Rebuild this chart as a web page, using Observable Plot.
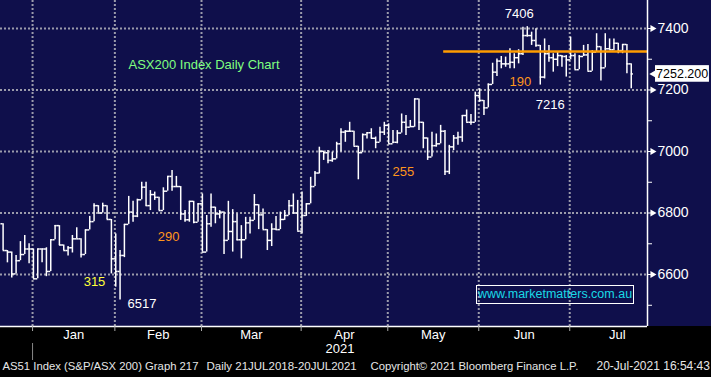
<!DOCTYPE html>
<html><head><meta charset="utf-8">
<script src="https://cdn.jsdelivr.net/npm/d3@7"></script>
<script src="https://cdn.jsdelivr.net/npm/@observablehq/plot@0.6"></script>
<style>
html,body{margin:0;padding:0;background:#000;}
#wrap{position:relative;width:711px;height:377px;overflow:hidden;font-family:"Liberation Sans",Arial,sans-serif;}
#wm{position:absolute;left:476px;top:285px;width:156px;height:17px;border:1px solid #fff;color:#19d9e6;font-size:12.5px;line-height:17px;text-align:center;white-space:nowrap;}
</style></head><body><div id="wrap"><div id="wm">www.marketmatters.com.au</div></div>
<script>
// ASX200 daily OHLC, 21 Dec 2020 – 20 Jul 2021
const opens = [6765,6678,6673,6602,6645,6665,6683,6683,6586,6683,6683,6610,6713,6759,6696,6678,6687,6716,6716,6665,6745,6772,6824,6800,6824,6779,6651,6610,6662,6763,6803,6790,6843,6884,6824,6860,6851,6808,6871,6919,6886,6886,6797,6778,6838,6770,6830,6673,6765,6819,6797,6803,6711,6740,6772,6713,6713,6768,6776,6827,6794,6746,6711,6748,6746,6779,6792,6824,6800,6741,6792,6830,6886,6930,7001,6996,6971,6976,7025,7063,7066,7066,7017,6996,7055,7061,7043,7030,7063,7085,7025,7030,7060,7095,7079,7081,7171,7095,7044,6982,7019,7025,7066,6935,7015,7044,7047,7117,7095,7095,7182,7166,7142,7218,7258,7294,7285,7285,7290,7305,7318,7377,7377,7361,7345,7242,7318,7305,7300,7312,7309,7298,7312,7266,7309,7314,7261,7323,7341,7272,7334,7331,7352,7328,7348,7285];
const highs = [6765,6678,6673,6662,6707,6727,6700,6683,6683,6683,6687,6713,6759,6759,6696,6691,6727,6752,6716,6745,6789,6830,6824,6832,6824,6779,6732,6678,6763,6854,6838,6845,6900,6900,6873,6868,6851,6882,6919,6938,6919,6886,6808,6838,6838,6830,6862,6792,6862,6819,6808,6803,6838,6811,6797,6759,6786,6786,6860,6827,6813,6746,6765,6789,6803,6808,6841,6862,6841,6868,6830,6916,6935,7014,7001,7003,6998,7030,7074,7068,7095,7066,7017,7057,7061,7074,7047,7079,7095,7090,7068,7068,7122,7117,7101,7171,7171,7095,7044,7063,7057,7085,7068,7020,7052,7063,7117,7135,7120,7193,7204,7166,7220,7287,7301,7309,7307,7334,7318,7331,7404,7406,7388,7399,7345,7366,7345,7318,7323,7312,7312,7372,7318,7312,7345,7348,7328,7383,7341,7383,7366,7366,7352,7348,7348,7285];
const lows = [6678,6638,6589,6602,6645,6665,6635,6586,6586,6638,6593,6610,6713,6694,6678,6660,6670,6716,6654,6665,6745,6772,6800,6800,6779,6602,6559,6517,6655,6763,6770,6785,6843,6822,6808,6841,6808,6808,6871,6871,6886,6776,6770,6770,6765,6770,6673,6673,6754,6765,6781,6665,6711,6673,6710,6651,6713,6732,6776,6746,6746,6678,6691,6743,6746,6776,6792,6797,6741,6732,6789,6830,6886,6927,6971,6960,6965,6976,6998,7030,7063,7017,6908,6996,7041,7041,7009,7030,7052,7025,7025,7025,7060,7052,7079,7079,7068,7009,6971,6982,7014,7025,6922,6925,7003,7020,7030,7095,7085,7095,7160,7117,7142,7218,7244,7269,7274,7269,7269,7285,7312,7372,7345,7339,7216,7236,7290,7258,7276,7274,7242,7298,7266,7266,7309,7261,7261,7323,7229,7272,7331,7328,7318,7318,7253,7204];
const closes = [6678,6673,6602,6645,6665,6683,6683,6586,6683,6683,6610,6713,6759,6696,6678,6687,6716,6716,6665,6745,6772,6824,6800,6824,6779,6651,6610,6662,6763,6803,6790,6843,6884,6824,6860,6851,6808,6871,6919,6886,6886,6797,6778,6838,6770,6830,6673,6765,6819,6797,6803,6711,6740,6772,6713,6713,6768,6776,6827,6794,6746,6711,6748,6746,6779,6792,6824,6800,6741,6792,6830,6886,6930,7001,6996,6971,6976,7025,7063,7066,7066,7017,6996,7055,7061,7043,7030,7063,7085,7025,7030,7060,7095,7079,7081,7171,7095,7044,6982,7019,7025,7066,6935,7015,7044,7047,7117,7095,7095,7182,7166,7142,7218,7258,7294,7285,7285,7290,7305,7318,7377,7377,7361,7345,7242,7318,7305,7300,7312,7309,7298,7312,7266,7309,7314,7261,7323,7341,7272,7334,7331,7352,7328,7348,7285,7252.2];

const monthLabels = ["Jan","Feb","Mar","Apr","May","Jun","Jul"];
const monthStarts = [7, 26, 46, 69, 89, 110, 131, 153]; // bar index of first trading day
const yTicks = [6600, 6800, 7000, 7200, 7400];
const yMinor = [6500, 6700, 6900, 7100, 7300];
const resistance = 7325;       // orange line level
const resistanceFrom = 101.7;  // bar index where it starts
const pivotHigh = 121, pivotLowJun = 124, pivotLowJan = 27; // bar indices of labelled pivots
const rangeText = ["315", "290", "255", "190"];
const rangeBar = [21.1, 38.2, 92.4, 119.4];
const rangePrice = [6577, 6724, 6935, 7228];

const bars = closes.map((c, i) => ({i, o: opens[i], h: highs[i], l: lows[i], c}));
const X0 = -0.6, X1 = 148.75, Y0 = 6431, Y1 = 7491;
const k = (Y1 - Y0) / 326;
const grid = "#9b9bab";
const gridStarts = monthStarts.slice(0, monthLabels.length).map(d => d - 0.2);
const mids = monthLabels.map((m, j) => (monthStarts[j] + monthStarts[j + 1]) / 2 - 0.2);
const labelOf = new Map(mids.map((m, j) => [m, monthLabels[j]]));
const last = closes[closes.length - 1];
const ranges = rangeText.map((t, j) => ({t, i: rangeBar[j], p: rangePrice[j]}));
const white = "#ffffff";
const foot = "#e6e6e6";

const chart = Plot.plot({
  width: 711, height: 377,
  marginLeft: 0, marginRight: 64, marginTop: 0, marginBottom: 51,
  x: {domain: [X0, X1], axis: null, label: null},
  y: {domain: [Y0, Y1], axis: null, label: null},
  style: {
    fontFamily: "'Liberation Sans', Arial, sans-serif",
    fontSize: "13px",
    color: white,
    background: "linear-gradient(to bottom, #0f0f4b 0px, #0f0f4b 326px, #000000 326px)",
    overflow: "visible"
  },
  marks: [
    Plot.ruleY(yTicks, {stroke: grid, strokeWidth: 2, strokeDasharray: "2,2"}),
    Plot.ruleX(gridStarts, {stroke: grid, strokeWidth: 2, strokeDasharray: "2,2"}),
    Plot.ruleX(bars, {x: "i", y1: "l", y2: "h", stroke: white, strokeWidth: 1.5}),
    Plot.ruleY(bars, {y: "o", x1: d => d.i - 0.5, x2: "i", stroke: white, strokeWidth: 1.5}),
    Plot.ruleY(bars, {y: "c", x1: "i", x2: d => d.i + 0.5, stroke: white, strokeWidth: 1.5}),
    Plot.ruleY([resistance], {x1: resistanceFrom, x2: X1, stroke: "#ff9d00", strokeWidth: 2.5}),
    // frame lines
    Plot.ruleX([X1], {stroke: white, strokeWidth: 1.5}),
    Plot.ruleY([Y0], {stroke: white, strokeWidth: 1.5}),
    // right axis
    Plot.axisY(yMinor, {anchor: "right", tickSize: 4, tickFormat: () => "", label: null}),
    Plot.axisY(yTicks, {anchor: "right", tickSize: 4, tickPadding: 6, fontSize: 14, tickFormat: d => String(d), label: null}),
    Plot.dot(yTicks, {x: X1 + 1.15, y: d => d, symbol: "triangle", rotate: 90, r: 2.6, fill: white}),
    // bottom axis
    Plot.axisX(gridStarts, {anchor: "bottom", tickSize: 5, tickFormat: () => "", stroke: "#aaaaaa", label: null}),
    Plot.axisX(mids, {anchor: "bottom", tickSize: 0, tickPadding: 3, tickFormat: d => labelOf.get(d), fontSize: 13, label: null}),
    Plot.text(["2021"], {x: (gridStarts[0] + X1) / 2, frameAnchor: "bottom", dy: 26, fill: white, fontSize: 13}),
    Plot.ruleX([gridStarts[0]], {y1: Y0 - 17 * k, y2: Y0 - 34 * k, stroke: "#888888", strokeWidth: 1}),
    // last price tag
    Plot.rect([last], {x1: X1 + 1.85, x2: X1 + 14.3, y1: d => d - 27, y2: d => d + 27, fill: white}),
    Plot.dot([last], {x: X1 + 1.85, y: d => d, symbol: "triangle", rotate: -90, r: 4, fill: white}),
    Plot.text([last], {x: X1 + 8.0, y: d => d, text: d => d.toFixed(3), fill: "#000000", fontSize: 12.5}),
    // annotations
    Plot.text(["ASX200 Index Daily Chart"], {frameAnchor: "top-left", dx: 128, dy: 59, textAnchor: "start", fill: "#80ff80", fontSize: 13}),
    Plot.text([pivotHigh], {x: d => d, y: d => highs[d], text: d => String(highs[d]), dx: -8, dy: -13, fill: white, fontSize: 13}),
    Plot.text([pivotLowJun], {x: d => d, y: d => lows[d], text: d => String(lows[d]), dx: 10, dy: 19.5, fill: white, fontSize: 13}),
    Plot.text([pivotLowJan], {x: d => d, y: d => lows[d], text: d => String(lows[d]), dx: 22, dy: 4, fill: white, fontSize: 13}),
    Plot.text(ranges, {x: "i", y: "p", text: "t", fill: d => d.t === "315" ? "#ffff3a" : "#ff961c", fontSize: 13}),
    // footer
    Plot.text(["AS51 Index (S&P/ASX 200) Graph 217"], {frameAnchor: "bottom-left", dx: 2, dy: 43, textAnchor: "start", fill: foot, fontSize: 11.3}),
    Plot.text(["Daily 21JUL2018-20JUL2021"], {frameAnchor: "bottom-left", dx: 206, dy: 43, textAnchor: "start", fill: foot, fontSize: 11.5}),
    Plot.text(["Copyright© 2021 Bloomberg Finance L.P."], {frameAnchor: "bottom-left", dx: 370, dy: 43, textAnchor: "start", fill: foot, fontSize: 11.3}),
    Plot.text(["20-Jul-2021 16:54:43"], {frameAnchor: "bottom-left", dx: 596, dy: 43, textAnchor: "start", fill: foot, fontSize: 12})
  ]
});
document.getElementById("wrap").prepend(chart);
</script></body></html>
